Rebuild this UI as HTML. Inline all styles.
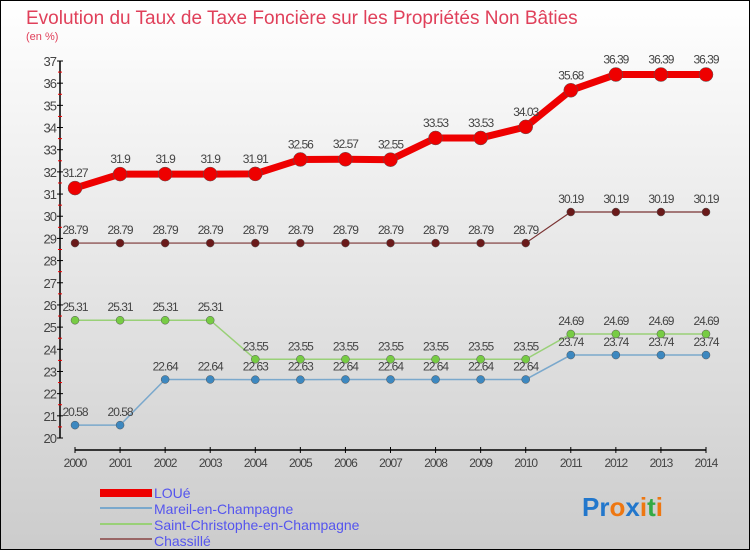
<!DOCTYPE html>
<html><head><meta charset="utf-8"><style>
html,body{margin:0;padding:0}
body{width:750px;height:550px;overflow:hidden;font-family:"Liberation Sans",sans-serif}
svg{display:block}
</style></head><body>
<svg id="chart" width="750" height="550" xmlns="http://www.w3.org/2000/svg">
<defs><linearGradient id="bg" x1="0" y1="0" x2="0" y2="1"><stop offset="0" stop-color="#ffffff"/><stop offset="1" stop-color="#cccccc"/></linearGradient></defs>
<rect x="0.5" y="0.5" width="749" height="549" fill="url(#bg)" stroke="#000"/>
<text x="26" y="24" font-size="19" fill="#e0405a">Evolution du Taux de Taxe Foncière sur les Propriétés Non Bâties</text>
<text x="26" y="40" font-size="11" fill="#e0405a">(en %)</text>
<g id="axes"></g>
<g id="series"></g>
<g>
<rect x="100" y="489" width="52" height="8" fill="#ee0000"/>
<text x="154" y="498" font-size="14" fill="#5555ee">LOUé</text>
<rect x="100" y="507" width="52" height="2" fill="#7aa8cc"/>
<text x="154" y="514" font-size="14" fill="#5555ee">Mareil-en-Champagne</text>
<rect x="100" y="523" width="52" height="2" fill="#99d077"/>
<text x="154" y="530" font-size="14" fill="#5555ee">Saint-Christophe-en-Champagne</text>
<rect x="100" y="538" width="52" height="2" fill="#996666"/>
<text x="154" y="546" font-size="14" fill="#5555ee">Chassillé</text>
</g>
<text x="582" y="516" font-size="26" font-weight="bold"><tspan fill="#2277cc">P</tspan><tspan fill="#2277cc">r</tspan><tspan fill="#ee7711">o</tspan><tspan fill="#2277cc">x</tspan><tspan fill="#ee7711">i</tspan><tspan fill="#33aa44">t</tspan><tspan fill="#ee7711">i</tspan></text>
</svg>
<script>
const years=[2000,2001,2002,2003,2004,2005,2006,2007,2008,2009,2010,2011,2012,2013,2014];
const loue=[31.27,31.9,31.9,31.9,31.91,32.56,32.57,32.55,33.53,33.53,34.03,35.68,36.39,36.39,36.39];
const mareil=[20.58,20.58,22.64,22.64,22.63,22.63,22.64,22.64,22.64,22.64,22.64,23.74,23.74,23.74,23.74];
const saintChristophe=[25.31,25.31,25.31,25.31,23.55,23.55,23.55,23.55,23.55,23.55,23.55,24.69,24.69,24.69,24.69];
const chassille=[28.79,28.79,28.79,28.79,28.79,28.79,28.79,28.79,28.79,28.79,28.79,30.19,30.19,30.19,30.19];
const yTicks=[20,21,22,23,24,25,26,27,28,29,30,31,32,33,34,35,36,37];
const NS="http://www.w3.org/2000/svg";
const x=i=>75+i*(706-75)/(years.length-1);
const y=v=>438-(v-20)*(438-61)/17;
function mk(tag,attrs,parent){const e=document.createElementNS(NS,tag);for(const k in attrs)e.setAttribute(k,attrs[k]);parent.appendChild(e);return e;}
const axes=document.getElementById('axes');
const ya=mk('line',{x1:60,y1:61,x2:60,y2:438,stroke:'#000','stroke-width':1.5},axes);


yTicks.forEach(t=>{
 mk('line',{x1:57,x2:63,y1:y(t),y2:y(t),stroke:'#000'},axes);
 if(t<37)mk('line',{x1:58,x2:62,y1:y(t+0.5),y2:y(t+0.5),stroke:'#e00'},axes);
 const tx=mk('text',{x:56,y:y(t)+5,'font-size':13,fill:'#444','text-anchor':'end','letter-spacing':'-1'},axes);
 tx.textContent=t;
 
 
});
const xa=mk('line',{x1:75,y1:450,x2:706,y2:450,stroke:'#000','stroke-width':1.5},axes);


years.forEach((yr,i)=>{
 mk('line',{x1:x(i),x2:x(i),y1:447,y2:453,stroke:'#000'},axes);
 const tx=mk('text',{x:x(i),y:467,'font-size':12,fill:'#444','text-anchor':'middle','letter-spacing':'-1'},axes);
 tx.textContent=yr;
 
 
});
const sg=document.getElementById('series');
function draw(vals,name,color,lw,r,dot){
 const g=mk('g',{},sg);
 
 
 const p=mk('polyline',{points:vals.map((v,i)=>x(i)+','+y(v)).join(' '),fill:'none',stroke:color,'stroke-width':lw},g);
 
 
 vals.forEach((v,i)=>{
  const c=mk('circle',{cx:x(i),cy:y(v),r:r,fill:dot,stroke:'#555','stroke-width':0.5},g);
  
  
  const t=mk('text',{x:x(i),y:y(v)-9-(r>5?2:0),'font-size':12,fill:'#444','text-anchor':'middle','letter-spacing':'-1'},g);
  t.textContent=String(v);
  
  
 });
}
draw(chassille,'chassille','#7a3333',1.2,4,'#6a1a1a');
draw(saintChristophe,'saint-christophe','#99d077',1.5,4,'#77cc44');
draw(mareil,'mareil','#7aa8cc',1.5,4,'#3d88c0');
draw(loue,'loue','#ee0000',7,7,'#ee0000');
</script>
</body></html>
